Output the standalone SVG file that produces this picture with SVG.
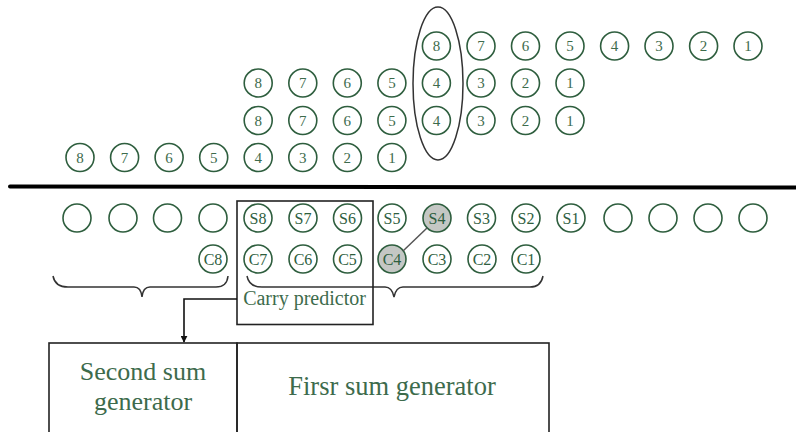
<svg xmlns="http://www.w3.org/2000/svg" width="796" height="432" viewBox="0 0 796 432">
<style>
.c{fill:#ffffff;stroke:#2e5e3e;stroke-width:1.6}
.g{fill:#c4c7c4;stroke:#2e5e3e;stroke-width:1.6}
.n{font-family:"Liberation Serif",serif;font-size:15px;fill:#3d6b4c;text-anchor:middle}
.s{font-family:"Liberation Serif",serif;font-size:16px;fill:#2e5e3e;text-anchor:middle}
.t{font-family:"Liberation Serif",serif;fill:#3d6b4c;text-anchor:middle}
.box{fill:none;stroke:#222;stroke-width:1.6}
.ln{fill:none;stroke:#333;stroke-width:1.5}
</style>
<defs>
<marker id="ah" viewBox="0 0 10 10" refX="9" refY="5" markerWidth="7" markerHeight="7" orient="auto" markerUnits="userSpaceOnUse">
<path d="M0,0 L10,5 L0,10 z" fill="#111"/>
</marker>
</defs>
<rect width="796" height="432" fill="#fff"/>

<!-- Row 1 -->
<g id="r1">
<g id="r1-8"><circle class="c" cx="436.4" cy="46" r="14"/><text class="n" x="436.4" y="51">8</text></g>
<g id="r1-7"><circle class="c" cx="481" cy="46" r="14"/><text class="n" x="481" y="51">7</text></g>
<g id="r1-6"><circle class="c" cx="525.5" cy="46" r="14"/><text class="n" x="525.5" y="51">6</text></g>
<g id="r1-5"><circle class="c" cx="570" cy="46" r="14"/><text class="n" x="570" y="51">5</text></g>
<g id="r1-4"><circle class="c" cx="614.6" cy="46" r="14"/><text class="n" x="614.6" y="51">4</text></g>
<g id="r1-3"><circle class="c" cx="659" cy="46" r="14"/><text class="n" x="659" y="51">3</text></g>
<g id="r1-2"><circle class="c" cx="703.6" cy="46" r="14"/><text class="n" x="703.6" y="51">2</text></g>
<g id="r1-1"><circle class="c" cx="748" cy="46" r="14"/><text class="n" x="748" y="51">1</text></g>
</g>
<!-- Row 2 -->
<g id="r2">
<g id="r2-8"><circle class="c" cx="258.2" cy="83" r="14"/><text class="n" x="258.2" y="88">8</text></g>
<g id="r2-7"><circle class="c" cx="302.8" cy="83" r="14"/><text class="n" x="302.8" y="88">7</text></g>
<g id="r2-6"><circle class="c" cx="347.3" cy="83" r="14"/><text class="n" x="347.3" y="88">6</text></g>
<g id="r2-5"><circle class="c" cx="391.9" cy="83" r="14"/><text class="n" x="391.9" y="88">5</text></g>
<g id="r2-4"><circle class="c" cx="436.4" cy="83" r="14"/><text class="n" x="436.4" y="88">4</text></g>
<g id="r2-3"><circle class="c" cx="481" cy="83" r="14"/><text class="n" x="481" y="88">3</text></g>
<g id="r2-2"><circle class="c" cx="525.5" cy="83" r="14"/><text class="n" x="525.5" y="88">2</text></g>
<g id="r2-1"><circle class="c" cx="570" cy="83" r="14"/><text class="n" x="570" y="88">1</text></g>
</g>
<!-- Row 3 -->
<g id="r3">
<g id="r3-8"><circle class="c" cx="258.2" cy="120.5" r="14"/><text class="n" x="258.2" y="125.5">8</text></g>
<g id="r3-7"><circle class="c" cx="302.8" cy="120.5" r="14"/><text class="n" x="302.8" y="125.5">7</text></g>
<g id="r3-6"><circle class="c" cx="347.3" cy="120.5" r="14"/><text class="n" x="347.3" y="125.5">6</text></g>
<g id="r3-5"><circle class="c" cx="391.9" cy="120.5" r="14"/><text class="n" x="391.9" y="125.5">5</text></g>
<g id="r3-4"><circle class="c" cx="436.4" cy="120.5" r="14"/><text class="n" x="436.4" y="125.5">4</text></g>
<g id="r3-3"><circle class="c" cx="481" cy="120.5" r="14"/><text class="n" x="481" y="125.5">3</text></g>
<g id="r3-2"><circle class="c" cx="525.5" cy="120.5" r="14"/><text class="n" x="525.5" y="125.5">2</text></g>
<g id="r3-1"><circle class="c" cx="570" cy="120.5" r="14"/><text class="n" x="570" y="125.5">1</text></g>
</g>
<!-- Row 4 -->
<g id="r4">
<g id="r4-8"><circle class="c" cx="80" cy="157.5" r="14"/><text class="n" x="80" y="162.5">8</text></g>
<g id="r4-7"><circle class="c" cx="124.6" cy="157.5" r="14"/><text class="n" x="124.6" y="162.5">7</text></g>
<g id="r4-6"><circle class="c" cx="169.1" cy="157.5" r="14"/><text class="n" x="169.1" y="162.5">6</text></g>
<g id="r4-5"><circle class="c" cx="213.7" cy="157.5" r="14"/><text class="n" x="213.7" y="162.5">5</text></g>
<g id="r4-4"><circle class="c" cx="258.2" cy="157.5" r="14"/><text class="n" x="258.2" y="162.5">4</text></g>
<g id="r4-3"><circle class="c" cx="302.8" cy="157.5" r="14"/><text class="n" x="302.8" y="162.5">3</text></g>
<g id="r4-2"><circle class="c" cx="347.3" cy="157.5" r="14"/><text class="n" x="347.3" y="162.5">2</text></g>
<g id="r4-1"><circle class="c" cx="391.9" cy="157.5" r="14"/><text class="n" x="391.9" y="162.5">1</text></g>
</g>

<g id="column-ellipse"><ellipse cx="438" cy="83.5" rx="25" ry="76.5" fill="none" stroke="#333" stroke-width="1.5"/></g>

<g id="divider"><line x1="10" y1="186.5" x2="796" y2="187.5" stroke="#000" stroke-width="4" stroke-linecap="round"/></g>

<!-- Sum row -->
<g id="srow">
<g id="se1"><circle class="c" cx="77" cy="218" r="14"/></g>
<g id="se2"><circle class="c" cx="123" cy="218" r="14"/></g>
<g id="se3"><circle class="c" cx="167.5" cy="218" r="14"/></g>
<g id="se4"><circle class="c" cx="213" cy="218" r="14"/></g>
<g id="S8"><circle class="c" cx="258" cy="218" r="14"/><text class="s" x="258" y="223.5">S8</text></g>
<g id="S7"><circle class="c" cx="303" cy="218" r="14"/><text class="s" x="303" y="223.5">S7</text></g>
<g id="S6"><circle class="c" cx="347.5" cy="218" r="14"/><text class="s" x="347.5" y="223.5">S6</text></g>
<g id="S5"><circle class="c" cx="392" cy="218" r="14"/><text class="s" x="392" y="223.5">S5</text></g>
<g id="S4"><circle class="g" cx="437" cy="218" r="14"/><text class="s" x="437" y="223.5">S4</text></g>
<g id="S3"><circle class="c" cx="481.5" cy="218" r="14"/><text class="s" x="481.5" y="223.5">S3</text></g>
<g id="S2"><circle class="c" cx="526" cy="218" r="14"/><text class="s" x="526" y="223.5">S2</text></g>
<g id="S1"><circle class="c" cx="571" cy="218" r="14"/><text class="s" x="571" y="223.5">S1</text></g>
<g id="se5"><circle class="c" cx="618" cy="218" r="14"/></g>
<g id="se6"><circle class="c" cx="663" cy="218" r="14"/></g>
<g id="se7"><circle class="c" cx="708" cy="218" r="14"/></g>
<g id="se8"><circle class="c" cx="753" cy="218" r="14"/></g>
</g>
<!-- Carry row -->
<g id="crow">
<g id="C8"><circle class="c" cx="213" cy="259" r="14"/><text class="s" x="213" y="264.5">C8</text></g>
<g id="C7"><circle class="c" cx="258" cy="259" r="14"/><text class="s" x="258" y="264.5">C7</text></g>
<g id="C6"><circle class="c" cx="303" cy="259" r="14"/><text class="s" x="303" y="264.5">C6</text></g>
<g id="C5"><circle class="c" cx="347.5" cy="259" r="14"/><text class="s" x="347.5" y="264.5">C5</text></g>
<g id="C4"><circle class="g" cx="392" cy="259" r="14"/><text class="s" x="392" y="264.5">C4</text></g>
<g id="C3"><circle class="c" cx="437" cy="259" r="14"/><text class="s" x="437" y="264.5">C3</text></g>
<g id="C2"><circle class="c" cx="482" cy="259" r="14"/><text class="s" x="482" y="264.5">C2</text></g>
<g id="C1"><circle class="c" cx="526" cy="259" r="14"/><text class="s" x="526" y="264.5">C1</text></g>
</g>

<g id="braces">
<path class="ln" d="M53,276 Q55,287 68,287 L134,287 Q141,287 142,297 Q143,287 150,287 L216,287 Q227,287 228,276"/>
<path class="ln" d="M247,276 Q249,287 262,287 L385,287 Q392,287 394,297 Q396,287 403,287 L530,287 Q541,287 543,276"/>
</g>

<g id="carry-predictor">
<rect class="box" x="237" y="201" width="136" height="123.5"/>
<text class="t" x="304.5" y="305" font-size="20">Carry predictor</text>
</g>

<g id="second-sum-generator">
<rect class="box" x="49" y="343" width="188" height="110"/>
<text class="t" x="143" y="380" font-size="26">Second sum</text>
<text class="t" x="143" y="410" font-size="26">generator</text>
</g>
<g id="first-sum-generator">
<rect class="box" x="237" y="343" width="312" height="110"/>
<text class="t" x="392" y="395" font-size="26.5">Firsr sum generator</text>
</g>

<g id="connectors">
<line x1="427" y1="228" x2="403" y2="251" stroke="#555" stroke-width="1.5"/>
<path d="M237,299 L184,299 L184,342" fill="none" stroke="#111" stroke-width="1.6" marker-end="url(#ah)"/>
</g>
</svg>
